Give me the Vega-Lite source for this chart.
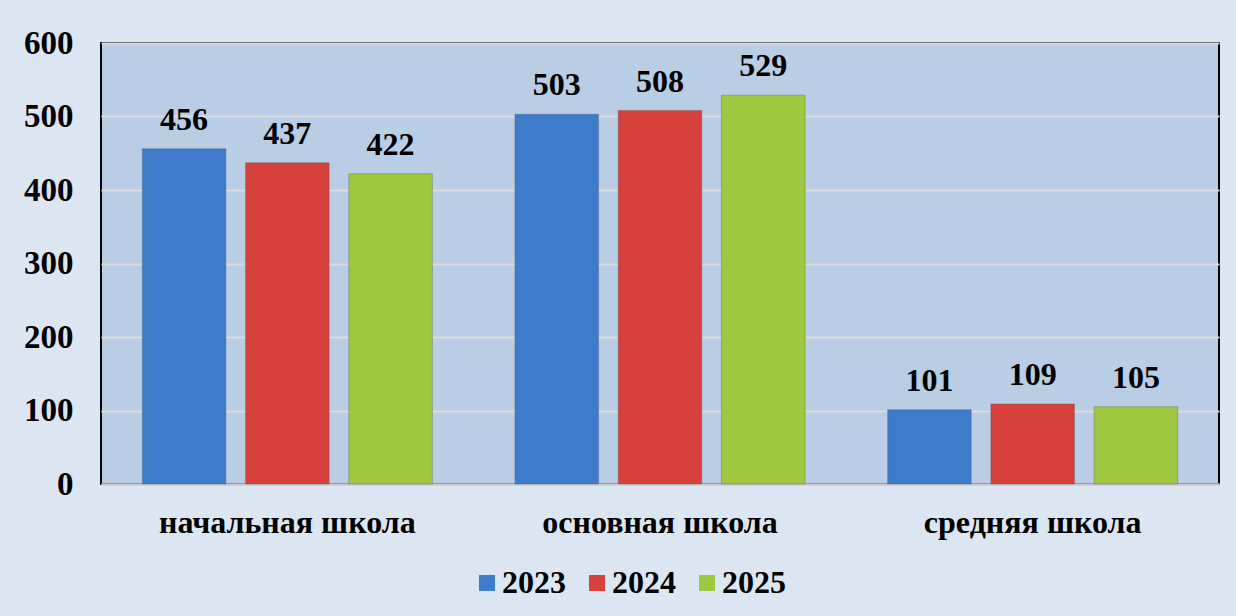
{
  "$schema": "https://vega.github.io/schema/vega-lite/v6.json",
  "autosize": "none",
  "width": 1118,
  "height": 441,
  "padding": {"left": 101, "top": 43, "right": 17, "bottom": 132},
  "background": "#dce6f2",
  "config": {
    "view": {"fill": "#b9cde5", "stroke": "#000000", "strokeWidth": 2},
    "font": "Liberation Serif"
  },
  "data": {
    "values": [
      {"level": "начальная школа", "year": "2023", "value": 456},
      {"level": "начальная школа", "year": "2024", "value": 437},
      {"level": "начальная школа", "year": "2025", "value": 422},
      {"level": "основная школа", "year": "2023", "value": 503},
      {"level": "основная школа", "year": "2024", "value": 508},
      {"level": "основная школа", "year": "2025", "value": 529},
      {"level": "средняя школа", "year": "2023", "value": 101},
      {"level": "средняя школа", "year": "2024", "value": 109},
      {"level": "средняя школа", "year": "2025", "value": 105}
    ]
  },
  "encoding": {
    "x": {
      "field": "level", "type": "nominal", "sort": null,
      "scale": {"paddingInner": 0, "paddingOuter": 0},
      "axis": {
        "title": null, "labelAngle": 0, "ticks": false, "labelLimit": 0,
        "domainColor": "#c8c8c8", "domainWidth": 2,
        "labelFont": "Liberation Serif", "labelFontWeight": "bold",
        "labelFontSize": 32, "labelColor": "#000000", "labelPadding": 23
      }
    },
    "xOffset": {
      "field": "year", "type": "nominal",
      "scale": {"paddingInner": 0.19, "paddingOuter": 0.4}
    },
    "y": {
      "field": "value", "type": "quantitative",
      "scale": {"domain": [0, 600], "nice": false},
      "axis": {
        "title": null, "values": [0, 100, 200, 300, 400, 500, 600],
        "ticks": false, "domain": false,
        "gridColor": "#dcdcdc", "gridWidth": 2,
        "labelFont": "Liberation Serif", "labelFontWeight": "bold",
        "labelFontSize": 33, "labelColor": "#000000", "labelPadding": 28
      }
    }
  },
  "layer": [
    {
      "mark": {"type": "bar", "stroke": "#555555", "strokeOpacity": 0.35, "strokeWidth": 1},
      "encoding": {
        "color": {
          "field": "year", "type": "nominal",
          "scale": {"domain": ["2023", "2024", "2025"], "range": ["#3d7ccb", "#d6403d", "#9ec83f"]},
          "legend": {
            "title": null, "orient": "none", "direction": "horizontal",
            "legendX": 370, "legendY": 524,
            "symbolType": "square", "symbolSize": 256, "symbolStrokeWidth": 0,
            "labelFont": "Liberation Serif", "labelFontWeight": "bold",
            "labelFontSize": 32, "labelColor": "#000000",
            "labelOffset": -1, "columnPadding": 15
          }
        }
      }
    },
    {
      "mark": {"type": "text", "baseline": "alphabetic", "dy": -19, "font": "Liberation Serif", "fontWeight": "bold", "fontSize": 32, "color": "#000000"},
      "encoding": {"text": {"field": "value", "type": "quantitative"}}
    }
  ]
}
